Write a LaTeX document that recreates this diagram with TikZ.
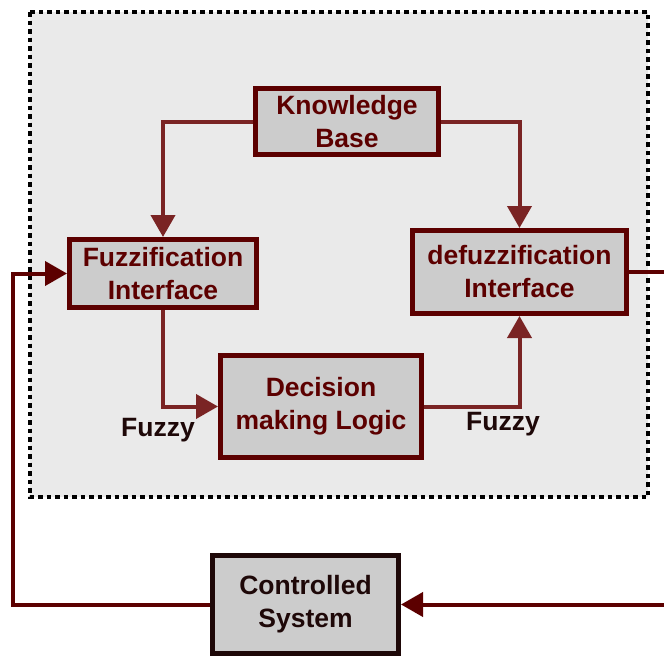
\documentclass[tikz,border=0pt]{standalone}
\usepackage{fontspec}
\setmainfont{Liberation Sans}
\usetikzlibrary{arrows.meta}
\definecolor{maroon}{HTML}{5C0000}
\definecolor{wire}{HTML}{7A2424}
\definecolor{boxfill}{HTML}{CCCCCC}
\definecolor{framefill}{HTML}{EAEAEA}
\definecolor{darktxt}{HTML}{1E0808}
\tikzset{
  blk/.style={draw=maroon, line width=5pt, fill=boxfill, text=maroon, align=center,
    font=\fontsize{26.5}{33}\selectfont\bfseries, inner sep=0pt},
  conn/.style={draw=wire, line width=4pt},
  arr/.style={-{Triangle[length=22pt,width=24pt]}},
  lbl/.style={text=darktxt, font=\fontsize{26.5}{30}\selectfont\bfseries, inner sep=0pt}
}
\begin{document}
\begin{tikzpicture}[x=1pt,y=-1pt]
\useasboundingbox (0,0) rectangle (664,656);
\fill[white] (0,0) rectangle (664,656);
% frame
\draw[fill=framefill, draw=black, line width=4.5pt, dash pattern=on 4.5pt off 4pt] (30,12) rectangle (648,497);
% blocks
\node[blk, minimum width=183pt, minimum height=66pt] (kb) at (347,121.5) {Knowledge\\Base};
\node[blk, minimum width=187pt, minimum height=68pt] (fuzz) at (163,273.5) {Fuzzification\\Interface};
\node[blk, minimum width=214pt, minimum height=83pt] (defuzz) at (519.5,272) {defuzzification\\Interface};
\node[blk, minimum width=201pt, minimum height=102pt] (dec) at (321,406.5) {Decision\\making Logic};
\node[blk, draw=darktxt, text=darktxt, minimum width=186pt, minimum height=98pt] (ctrl) at (305.5,604.5) {Controlled\\System};
% labels
\node[lbl] (f1) at (158,430) {Fuzzy};
\node[lbl] (f2) at (503,424) {Fuzzy};
% coordinates
\coordinate (L) at (13,0);
\coordinate (R1) at (670,272);
\coordinate (R2) at (670,604.5);
% connectors
\draw[conn, arr] (kb.west) -| (fuzz.north);
\draw[conn, arr] (kb.east) -| (defuzz.north);
\draw[conn, arr] (fuzz.south) |- (dec.west);
\draw[conn, arr] (dec.east) -| (defuzz.south);
\draw[conn, draw=maroon] (defuzz.east) -- (R1);
\draw[conn, draw=maroon, arr] (R2) -- (ctrl.east);
\draw[conn, draw=maroon, arr] (ctrl.west) -- (ctrl.west -| L) |- (fuzz.west);
\end{tikzpicture}
\end{document}
